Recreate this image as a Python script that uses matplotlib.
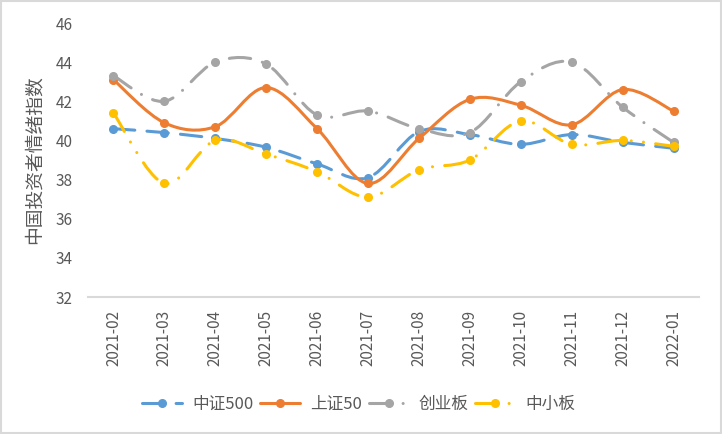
import matplotlib
matplotlib.use("Agg")
import matplotlib.pyplot as plt
from matplotlib.path import Path
from matplotlib.patches import PathPatch, Rectangle
from matplotlib.lines import Line2D

plt.rcParams['font.family'] = ['Noto Sans CJK SC', 'DejaVu Sans']

months = ["2021-02", "2021-03", "2021-04", "2021-05", "2021-06", "2021-07",
          "2021-08", "2021-09", "2021-10", "2021-11", "2021-12", "2022-01"]
zz500 = [40.6, 40.4, 40.1, 39.65, 38.8, 38.1, 40.45, 40.3, 39.8, 40.3, 39.9, 39.6]
sz50 = [43.1, 40.9, 40.7, 42.7, 40.6, 37.8, 40.1, 42.1, 41.8, 40.8, 42.6, 41.5]
cyb = [43.3, 42.0, 44.0, 43.9, 41.3, 41.5, 40.6, 40.4, 43.0, 44.0, 41.7, 39.9]
zxb = [41.4, 37.8, 40.0, 39.3, 38.4, 37.1, 38.5, 39.0, 41.0, 39.8, 40.0, 39.7]
series_names = ["中证500", "上证50", "创业板", "中小板"]
yticks = [32, 34, 36, 38, 40, 42, 44, 46]

colors = ["#5B9BD5", "#ED7D31", "#A5A5A5", "#FFC000"]
styles = [(0, (7, 4)), "solid", (0, (7, 4, 0.01, 4)), (0, (7, 4, 0.01, 4, 0.01, 4))]
lw = 2.2

fig = plt.figure(figsize=(7.22, 4.34), dpi=100)
ax = fig.add_axes([88/722, 1-297/434, (699-88)/722, (297-23)/434])


def smooth_path(xs, ys):
    pts = list(zip(xs, ys))
    n = len(pts)
    verts = [pts[0]]
    codes = [Path.MOVETO]
    for i in range(n-1):
        p0 = pts[i-1] if i > 0 else pts[i]
        p1 = pts[i]
        p2 = pts[i+1]
        p3 = pts[i+2] if i+2 < n else pts[i+1]
        c1 = (p1[0] + (p2[0]-p0[0])/6, p1[1] + (p2[1]-p0[1])/6)
        c2 = (p2[0] - (p3[0]-p1[0])/6, p2[1] - (p3[1]-p1[1])/6)
        verts += [c1, c2, p2]
        codes += [Path.CURVE4]*3
    return Path(verts, codes)


xs = list(range(len(months)))
handles = []
for k, (vals, name) in enumerate(zip([zz500, sz50, cyb, zxb], series_names)):
    patch = PathPatch(smooth_path(xs, vals), fill=False, edgecolor=colors[k],
                      linewidth=lw, linestyle=styles[k], capstyle='round',
                      joinstyle='round', zorder=2+k)
    ax.add_patch(patch)
    ax.plot(xs, vals, linestyle='none', marker='o', ms=5.5, color=colors[k],
            zorder=2+k)
    handles.append(Line2D([], [], color=colors[k], lw=lw, linestyle=styles[k],
                          marker='o', ms=5.5, dash_capstyle='round',
                          solid_capstyle='round'))

ax.set_xlim(-0.5, len(months)-0.5)
ax.set_ylim(32, 46)
ax.set_yticks(yticks)
ax.set_yticklabels([str(v) for v in yticks])
ax.set_xticks(xs)
ax.set_xticklabels(months, rotation=90)
ax.tick_params(axis='both', length=0, labelsize=11, colors='#595959')
ax.tick_params(axis='y', pad=11)
ax.tick_params(axis='x', pad=9)
for s in ['top', 'right', 'left']:
    ax.spines[s].set_visible(False)
ax.spines['bottom'].set_color('#D9D9D9')
ax.spines['bottom'].set_linewidth(1.5)
ax.set_ylabel("中国投资者情绪指数", fontsize=13.5, color='#595959', labelpad=8)

fig.legend(handles, series_names, loc='center', bbox_to_anchor=(0.497, 1-404/434),
           ncol=4, frameon=False, fontsize=12, handlelength=2.4,
           handletextpad=0.6, columnspacing=0.4, labelcolor='#595959')

fig.add_artist(Rectangle((0.0015, 0.0025), 0.997, 0.995, transform=fig.transFigure,
                         fill=False, edgecolor='#D9D9D9', linewidth=1.5))

fig.savefig("out.png", dpi=100)
